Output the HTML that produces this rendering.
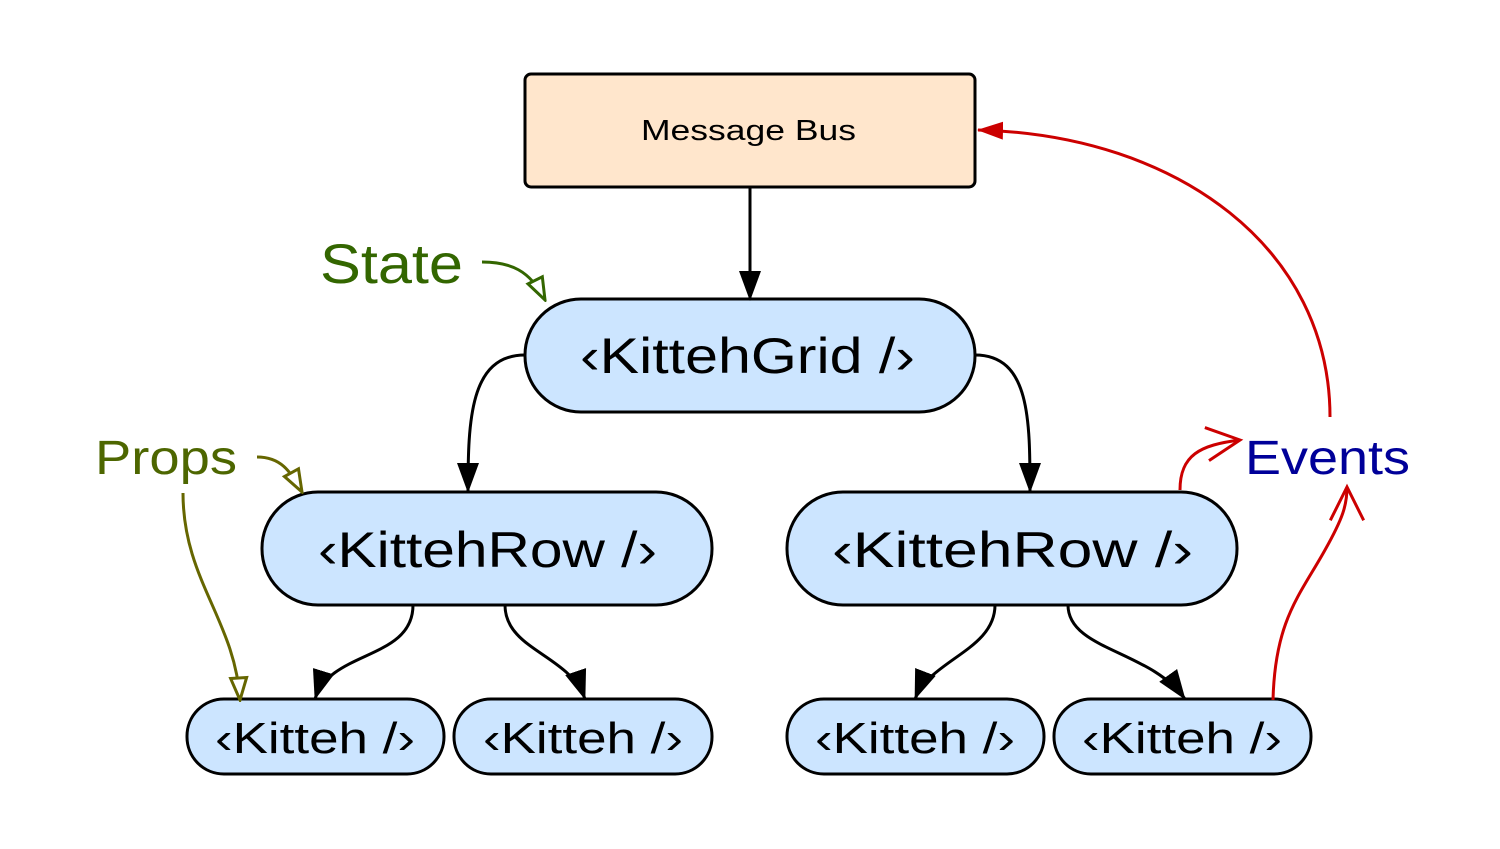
<!DOCTYPE html>
<html><head><meta charset="utf-8"><style>
html,body{margin:0;padding:0;background:#fff;}
svg{display:block}
text{font-family:"Liberation Sans","DejaVu Sans",sans-serif;}
</style></head><body>
<svg width="1500" height="849" viewBox="0 0 1500 849" xmlns="http://www.w3.org/2000/svg">
<defs>
<marker id="ab" viewBox="0 0 30 24" refX="29" refY="12" markerWidth="30" markerHeight="24" markerUnits="userSpaceOnUse" orient="auto"><path d="M0,1 L30,12 L0,23 Z" fill="#000"/></marker>
<marker id="ar" viewBox="0 0 26 20" refX="25" refY="10" markerWidth="26" markerHeight="20" markerUnits="userSpaceOnUse" orient="auto"><path d="M0,1 L26,10 L0,19 Z" fill="#cc0000"/></marker>
<marker id="ag" viewBox="0 0 26 22" refX="24" refY="11" markerWidth="26" markerHeight="22" markerUnits="userSpaceOnUse" orient="auto"><path d="M2,3 L24,11 L2,19 Z" fill="#fff" stroke="#336600" stroke-width="3"/></marker>
<marker id="ao" viewBox="0 0 26 22" refX="24" refY="11" markerWidth="26" markerHeight="22" markerUnits="userSpaceOnUse" orient="auto"><path d="M2,3 L24,11 L2,19 Z" fill="#fff" stroke="#666600" stroke-width="3"/></marker>
<marker id="av" viewBox="0 0 12 12" refX="11" refY="6" markerWidth="40" markerHeight="40" markerUnits="userSpaceOnUse" orient="auto"><path d="M1,1 L11,6 L1,11" fill="none" stroke="#cc0000" stroke-width="0.9"/></marker>
</defs>
<g stroke="#000" stroke-width="3">
<rect x="525" y="74" width="450" height="113" rx="6" fill="#ffe6cc"/>
<rect x="525" y="299" width="450" height="113" rx="56" fill="#cce5ff"/>
<rect x="262" y="492" width="450" height="113" rx="56" fill="#cce5ff"/>
<rect x="787" y="492" width="450" height="113" rx="56" fill="#cce5ff"/>
<rect x="187" y="699" width="257" height="75" rx="37" fill="#cce5ff"/>
<rect x="454" y="699" width="258" height="75" rx="37" fill="#cce5ff"/>
<rect x="787" y="699" width="257" height="75" rx="37" fill="#cce5ff"/>
<rect x="1054" y="699" width="257" height="75" rx="37" fill="#cce5ff"/>
</g>
<g stroke="#000" stroke-width="3" fill="none" marker-end="url(#ab)">
<path d="M750,187 L750,300"/>
<path d="M525,355 C470,355 468,420 468,492"/>
<path d="M975,355 C1030,355 1030,420 1030,492"/>
<path d="M413,605 C413,660 330,650 315,699"/>
<path d="M505,605 C505,650 570,655 585,699"/>
<path d="M995,605 C995,650 930,660 915,699"/>
<path d="M1068,605 C1068,650 1150,650 1185,699"/>
</g>
<path d="M482,262 C510,262 530,270 545,300" stroke="#336600" stroke-width="3" fill="none" marker-end="url(#ag)"/>
<path d="M257,457 C280,457 290,470 302,492" stroke="#666600" stroke-width="3" fill="none" marker-end="url(#ao)"/>
<path d="M183,493 C183,580 235,620 240,700" stroke="#666600" stroke-width="3" fill="none" marker-end="url(#ao)"/>
<path d="M1330,417 C1330,250 1180,135 978,130" stroke="#cc0000" stroke-width="3" fill="none" marker-end="url(#ar)"/>
<path d="M1180,490 C1180,455 1200,445 1240,440" stroke="#cc0000" stroke-width="3" fill="none" marker-end="url(#av)"/>
<path d="M1273,700 C1275,620 1300,595 1325,550 C1343,518 1347,505 1347,487" stroke="#cc0000" stroke-width="3" fill="none" marker-end="url(#av)"/>
<g fill="#000" lengthAdjust="spacingAndGlyphs">
<text x="641" y="140" font-size="29" textLength="215" lengthAdjust="spacingAndGlyphs">Message Bus</text>
<text x="580" y="373" font-size="50" textLength="335" lengthAdjust="spacingAndGlyphs">‹KittehGrid /›</text>
<text x="318" y="567" font-size="50" textLength="339" lengthAdjust="spacingAndGlyphs">‹KittehRow /›</text>
<text x="832" y="567" font-size="50" textLength="361" lengthAdjust="spacingAndGlyphs">‹KittehRow /›</text>
<text x="215" y="753" font-size="44" textLength="200" lengthAdjust="spacingAndGlyphs">‹Kitteh /›</text>
<text x="483" y="753" font-size="44" textLength="200" lengthAdjust="spacingAndGlyphs">‹Kitteh /›</text>
<text x="815" y="753" font-size="44" textLength="200" lengthAdjust="spacingAndGlyphs">‹Kitteh /›</text>
<text x="1082" y="753" font-size="44" textLength="200" lengthAdjust="spacingAndGlyphs">‹Kitteh /›</text>
</g>
<text x="320" y="283" font-size="56" fill="#336600" textLength="143" lengthAdjust="spacingAndGlyphs">State</text>
<text x="95" y="474" font-size="48" fill="#4d6600" textLength="142" lengthAdjust="spacingAndGlyphs">Props</text>
<text x="1245" y="474" font-size="48" fill="#000099" textLength="165" lengthAdjust="spacingAndGlyphs">Events</text>
</svg>
</body></html>
